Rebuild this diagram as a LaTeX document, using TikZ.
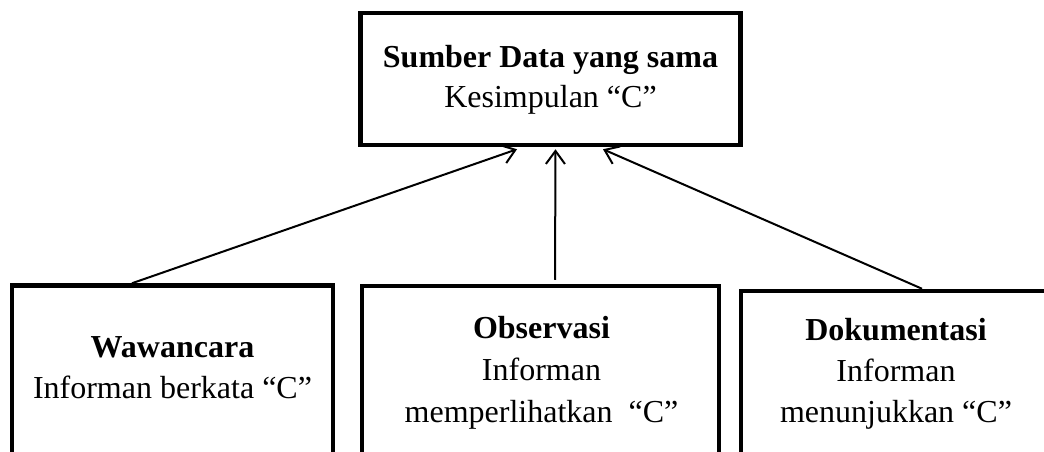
\documentclass[tikz,border=0pt]{standalone}
\usepackage{fontspec}
\setmainfont{Liberation Serif}
\usetikzlibrary{arrows.meta}
\begin{document}
\begin{tikzpicture}[x=1pt,y=-1pt,
  box/.style={draw=black,line width=4.5pt,rectangle,inner sep=0pt},
  txt/.style={anchor=base,inner sep=0pt,font=\fontsize{32}{41}\selectfont},
  bold/.style={txt,font=\fontsize{32}{41}\selectfont\bfseries},
  arr/.style={line width=2pt,-{Straight Barb[length=13pt,width=19pt,line width=2pt]}}]
\useasboundingbox (0,0) rectangle (1044,452);
\clip (0,0) rectangle (1044,452);
% boxes
\node[box,minimum width=380pt,minimum height=132pt] (top) at (550.5,79) {};
\node[box,minimum width=321pt,minimum height=190pt] (w) at (172.5,380.5) {};
\node[box,minimum width=357pt,minimum height=190pt] (o) at (540.5,381) {};
\node[box,minimum width=310pt,minimum height=185pt] (d) at (896,383.5) {};
% texts
\node[bold] (t1) at (550.5,67) {Sumber Data yang sama};
\node[txt]  (t2) at (550.5,107.5) {Kesimpulan “C”};
\node[bold] (w1) at (172.5,357) {Wawancara};
\node[txt]  (w2) at (172.5,398) {Informan berkata “C”};
\node[bold] (o1) at (541.5,338) {Observasi};
\node[txt]  (o2) at (541.5,380) {Informan};
\node[txt]  (o3) at (541.5,422) {memperlihatkan \ “C”};
\node[bold] (d1) at (896,340) {Dokumentasi};
\node[txt]  (d2) at (896,381) {Informan};
\node[txt]  (d3) at (896,422) {menunjukkan “C”};
% connectors
\draw[arr] ([xshift=-40.5pt]w.north) -- ([xshift=-33.5pt,yshift=-2pt]top.south);
\draw[arr] ([xshift=14.5pt,yshift=4pt]o.north) -- ([xshift=5pt,yshift=-2pt]top.south);
\draw[arr] ([xshift=26pt]d.north) -- ([xshift=52.5pt,yshift=-2pt]top.south);
\end{tikzpicture}
\end{document}
